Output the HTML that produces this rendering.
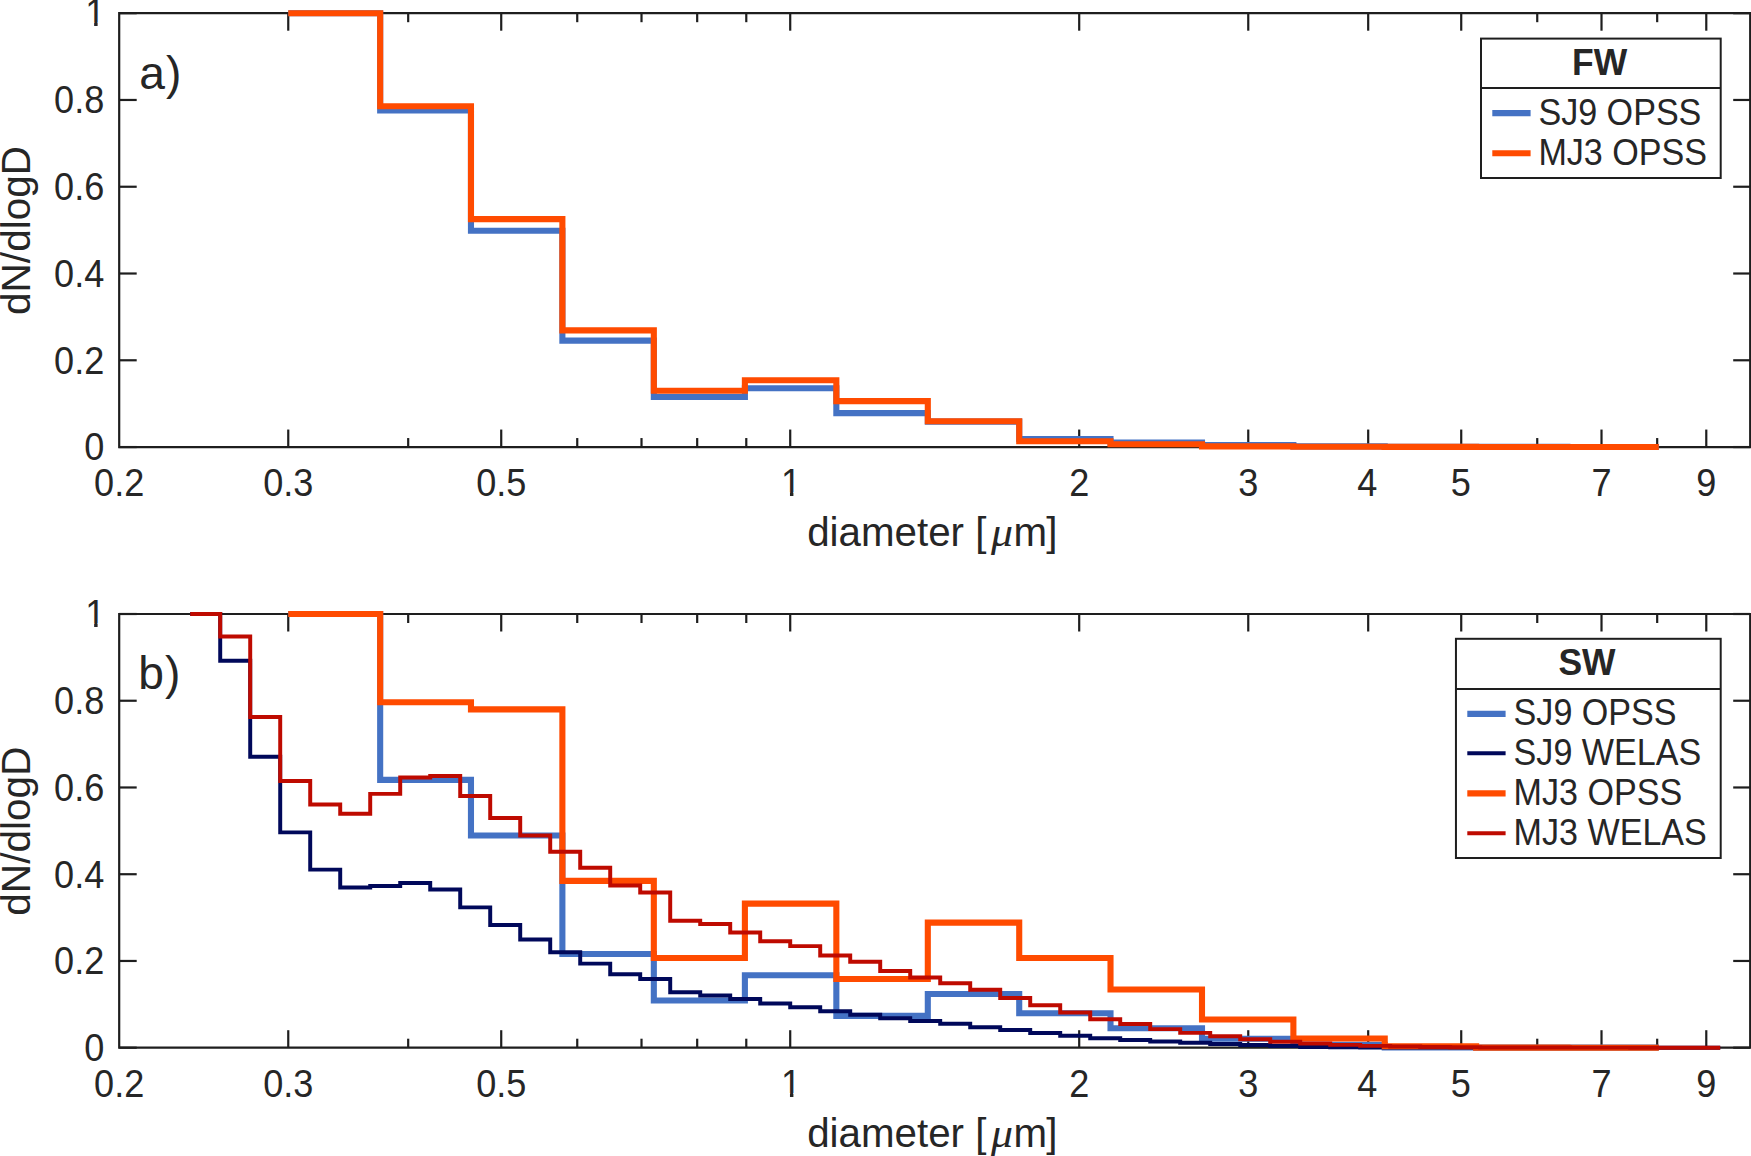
<!DOCTYPE html>
<html lang="en"><head><meta charset="utf-8"><title>Particle size distributions</title>
<style>
html,body{margin:0;padding:0;background:#fff;}
body{width:1751px;height:1156px;overflow:hidden;}
svg{display:block;font-family:"Liberation Sans", Arial, Helvetica, sans-serif;fill:#262626;}
</style></head><body>
<svg width="1751" height="1156" viewBox="0 0 1751 1156">
<defs><clipPath id="c1" clipPathUnits="userSpaceOnUse"><rect x="-5" y="-40" width="50" height="36.5"/><rect x="8.95" y="-3.6" width="3.45" height="4.6"/></clipPath></defs>
<rect x="0" y="0" width="1751" height="1156" fill="#ffffff" stroke="none"/>
<path d="M119.20 13.20 H1750.20 V447.05 H119.20 Z" fill="none" stroke="#1e1e1e" stroke-width="2.20" stroke-linejoin="miter"/>
<line x1="288.25" y1="447.05" x2="288.25" y2="429.55" stroke="#1e1e1e" stroke-width="2.20"/>
<line x1="288.25" y1="13.20" x2="288.25" y2="30.70" stroke="#1e1e1e" stroke-width="2.20"/>
<line x1="501.22" y1="447.05" x2="501.22" y2="429.55" stroke="#1e1e1e" stroke-width="2.20"/>
<line x1="501.22" y1="13.20" x2="501.22" y2="30.70" stroke="#1e1e1e" stroke-width="2.20"/>
<line x1="790.21" y1="447.05" x2="790.21" y2="429.55" stroke="#1e1e1e" stroke-width="2.20"/>
<line x1="790.21" y1="13.20" x2="790.21" y2="30.70" stroke="#1e1e1e" stroke-width="2.20"/>
<line x1="1079.20" y1="447.05" x2="1079.20" y2="429.55" stroke="#1e1e1e" stroke-width="2.20"/>
<line x1="1079.20" y1="13.20" x2="1079.20" y2="30.70" stroke="#1e1e1e" stroke-width="2.20"/>
<line x1="1248.25" y1="447.05" x2="1248.25" y2="429.55" stroke="#1e1e1e" stroke-width="2.20"/>
<line x1="1248.25" y1="13.20" x2="1248.25" y2="30.70" stroke="#1e1e1e" stroke-width="2.20"/>
<line x1="1368.19" y1="447.05" x2="1368.19" y2="429.55" stroke="#1e1e1e" stroke-width="2.20"/>
<line x1="1368.19" y1="13.20" x2="1368.19" y2="30.70" stroke="#1e1e1e" stroke-width="2.20"/>
<line x1="1461.22" y1="447.05" x2="1461.22" y2="429.55" stroke="#1e1e1e" stroke-width="2.20"/>
<line x1="1461.22" y1="13.20" x2="1461.22" y2="30.70" stroke="#1e1e1e" stroke-width="2.20"/>
<line x1="1601.51" y1="447.05" x2="1601.51" y2="429.55" stroke="#1e1e1e" stroke-width="2.20"/>
<line x1="1601.51" y1="13.20" x2="1601.51" y2="30.70" stroke="#1e1e1e" stroke-width="2.20"/>
<line x1="1706.28" y1="447.05" x2="1706.28" y2="429.55" stroke="#1e1e1e" stroke-width="2.20"/>
<line x1="1706.28" y1="13.20" x2="1706.28" y2="30.70" stroke="#1e1e1e" stroke-width="2.20"/>
<line x1="408.19" y1="447.05" x2="408.19" y2="438.05" stroke="#1e1e1e" stroke-width="2.20"/>
<line x1="408.19" y1="13.20" x2="408.19" y2="22.20" stroke="#1e1e1e" stroke-width="2.20"/>
<line x1="577.24" y1="447.05" x2="577.24" y2="438.05" stroke="#1e1e1e" stroke-width="2.20"/>
<line x1="577.24" y1="13.20" x2="577.24" y2="22.20" stroke="#1e1e1e" stroke-width="2.20"/>
<line x1="641.51" y1="447.05" x2="641.51" y2="438.05" stroke="#1e1e1e" stroke-width="2.20"/>
<line x1="641.51" y1="13.20" x2="641.51" y2="22.20" stroke="#1e1e1e" stroke-width="2.20"/>
<line x1="697.18" y1="447.05" x2="697.18" y2="438.05" stroke="#1e1e1e" stroke-width="2.20"/>
<line x1="697.18" y1="13.20" x2="697.18" y2="22.20" stroke="#1e1e1e" stroke-width="2.20"/>
<line x1="746.28" y1="447.05" x2="746.28" y2="438.05" stroke="#1e1e1e" stroke-width="2.20"/>
<line x1="746.28" y1="13.20" x2="746.28" y2="22.20" stroke="#1e1e1e" stroke-width="2.20"/>
<line x1="1537.24" y1="447.05" x2="1537.24" y2="438.05" stroke="#1e1e1e" stroke-width="2.20"/>
<line x1="1537.24" y1="13.20" x2="1537.24" y2="22.20" stroke="#1e1e1e" stroke-width="2.20"/>
<line x1="1657.18" y1="447.05" x2="1657.18" y2="438.05" stroke="#1e1e1e" stroke-width="2.20"/>
<line x1="1657.18" y1="13.20" x2="1657.18" y2="22.20" stroke="#1e1e1e" stroke-width="2.20"/>
<line x1="119.20" y1="447.05" x2="136.70" y2="447.05" stroke="#1e1e1e" stroke-width="2.20"/>
<line x1="1750.20" y1="447.05" x2="1733.20" y2="447.05" stroke="#1e1e1e" stroke-width="2.20"/>
<text transform="translate(104.30 460.45) scale(1.0000 1.0580)" font-size="36.10" text-anchor="end" font-weight="normal">0</text>
<line x1="119.20" y1="360.28" x2="136.70" y2="360.28" stroke="#1e1e1e" stroke-width="2.20"/>
<line x1="1750.20" y1="360.28" x2="1733.20" y2="360.28" stroke="#1e1e1e" stroke-width="2.20"/>
<text transform="translate(104.30 373.68) scale(1.0000 1.0580)" font-size="36.10" text-anchor="end" font-weight="normal">0.2</text>
<line x1="119.20" y1="273.51" x2="136.70" y2="273.51" stroke="#1e1e1e" stroke-width="2.20"/>
<line x1="1750.20" y1="273.51" x2="1733.20" y2="273.51" stroke="#1e1e1e" stroke-width="2.20"/>
<text transform="translate(104.30 286.91) scale(1.0000 1.0580)" font-size="36.10" text-anchor="end" font-weight="normal">0.4</text>
<line x1="119.20" y1="186.74" x2="136.70" y2="186.74" stroke="#1e1e1e" stroke-width="2.20"/>
<line x1="1750.20" y1="186.74" x2="1733.20" y2="186.74" stroke="#1e1e1e" stroke-width="2.20"/>
<text transform="translate(104.30 200.14) scale(1.0000 1.0580)" font-size="36.10" text-anchor="end" font-weight="normal">0.6</text>
<line x1="119.20" y1="99.97" x2="136.70" y2="99.97" stroke="#1e1e1e" stroke-width="2.20"/>
<line x1="1750.20" y1="99.97" x2="1733.20" y2="99.97" stroke="#1e1e1e" stroke-width="2.20"/>
<text transform="translate(104.30 113.37) scale(1.0000 1.0580)" font-size="36.10" text-anchor="end" font-weight="normal">0.8</text>
<line x1="119.20" y1="13.20" x2="136.70" y2="13.20" stroke="#1e1e1e" stroke-width="2.20"/>
<line x1="1750.20" y1="13.20" x2="1733.20" y2="13.20" stroke="#1e1e1e" stroke-width="2.20"/>
<text transform="translate(85.20 26.10) scale(1 1.0580)" font-size="36.10" text-anchor="start" clip-path="url(#c1)">1</text>
<path d="M288.25 13.20 L380.17 13.20 L380.17 110.51 L470.97 110.51 L470.97 230.82 L562.38 230.82 L562.38 340.58 L653.83 340.58 L653.83 397.07 L744.89 397.07 L744.89 388.26 L836.34 388.26 L836.34 413.17 L927.81 413.17 L927.81 421.67 L1019.22 421.67 L1019.22 439.07 L1110.51 439.07 L1110.51 442.67 L1202.00 442.67 L1202.00 445.14 L1293.38 445.14 L1293.38 446.40 L1384.74 446.40 L1384.74 446.83 L1476.13 446.83 L1476.13 446.92 L1567.45 446.92 L1567.45 446.96 L1658.79 446.96" fill="none" stroke="#4472C4" stroke-width="6.10" stroke-linejoin="miter" stroke-linecap="butt"/>
<path d="M288.25 13.20 L380.17 13.20 L380.17 106.26 L470.97 106.26 L470.97 219.15 L562.38 219.15 L562.38 330.34 L653.83 330.34 L653.83 390.82 L744.89 390.82 L744.89 380.28 L836.34 380.28 L836.34 401.15 L927.81 401.15 L927.81 421.24 L1019.22 421.24 L1019.22 441.24 L1110.51 441.24 L1110.51 444.23 L1202.00 444.23 L1202.00 446.36 L1293.38 446.36 L1293.38 446.79 L1384.74 446.79 L1384.74 446.92 L1476.13 446.92 L1476.13 446.96 L1567.45 446.96 L1567.45 447.01 L1658.79 447.01" fill="none" stroke="#FF4B00" stroke-width="6.10" stroke-linejoin="miter" stroke-linecap="butt"/>
<text transform="translate(119.20 496.10) scale(1.0000 1.0580)" font-size="36.10" text-anchor="middle" font-weight="normal">0.2</text>
<text transform="translate(288.25 496.10) scale(1.0000 1.0580)" font-size="36.10" text-anchor="middle" font-weight="normal">0.3</text>
<text transform="translate(501.22 496.10) scale(1.0000 1.0580)" font-size="36.10" text-anchor="middle" font-weight="normal">0.5</text>
<text transform="translate(781.01 496.00) scale(1 1.0580)" font-size="36.10" text-anchor="start" clip-path="url(#c1)">1</text>
<text transform="translate(1079.20 496.10) scale(1.0000 1.0580)" font-size="36.10" text-anchor="middle" font-weight="normal">2</text>
<text transform="translate(1248.25 496.10) scale(1.0000 1.0580)" font-size="36.10" text-anchor="middle" font-weight="normal">3</text>
<text transform="translate(1367.29 496.10) scale(1.0000 1.0580)" font-size="36.10" text-anchor="middle" font-weight="normal">4</text>
<text transform="translate(1460.82 496.10) scale(1.0000 1.0580)" font-size="36.10" text-anchor="middle" font-weight="normal">5</text>
<text transform="translate(1601.51 496.10) scale(1.0000 1.0580)" font-size="36.10" text-anchor="middle" font-weight="normal">7</text>
<text transform="translate(1706.28 496.10) scale(1.0000 1.0580)" font-size="36.10" text-anchor="middle" font-weight="normal">9</text>
<text y="546.40" font-size="40.30" text-anchor="start"><tspan x="807.2">diameter [</tspan><tspan x="991.0" font-family="'Liberation Serif', 'DejaVu Serif', serif" font-style="italic" font-size="40.5" textLength="22.0" lengthAdjust="spacingAndGlyphs">μ</tspan><tspan x="1013.4" letter-spacing="-0.6">m]</tspan></text>
<text transform="translate(29.80 230.43) rotate(-90)" font-size="40.60" text-anchor="middle">dN/dlogD</text>
<path d="M119.20 614.00 H1750.20 V1047.70 H119.20 Z" fill="none" stroke="#1e1e1e" stroke-width="2.20" stroke-linejoin="miter"/>
<line x1="288.25" y1="1047.70" x2="288.25" y2="1030.20" stroke="#1e1e1e" stroke-width="2.20"/>
<line x1="288.25" y1="614.00" x2="288.25" y2="631.50" stroke="#1e1e1e" stroke-width="2.20"/>
<line x1="501.22" y1="1047.70" x2="501.22" y2="1030.20" stroke="#1e1e1e" stroke-width="2.20"/>
<line x1="501.22" y1="614.00" x2="501.22" y2="631.50" stroke="#1e1e1e" stroke-width="2.20"/>
<line x1="790.21" y1="1047.70" x2="790.21" y2="1030.20" stroke="#1e1e1e" stroke-width="2.20"/>
<line x1="790.21" y1="614.00" x2="790.21" y2="631.50" stroke="#1e1e1e" stroke-width="2.20"/>
<line x1="1079.20" y1="1047.70" x2="1079.20" y2="1030.20" stroke="#1e1e1e" stroke-width="2.20"/>
<line x1="1079.20" y1="614.00" x2="1079.20" y2="631.50" stroke="#1e1e1e" stroke-width="2.20"/>
<line x1="1248.25" y1="1047.70" x2="1248.25" y2="1030.20" stroke="#1e1e1e" stroke-width="2.20"/>
<line x1="1248.25" y1="614.00" x2="1248.25" y2="631.50" stroke="#1e1e1e" stroke-width="2.20"/>
<line x1="1368.19" y1="1047.70" x2="1368.19" y2="1030.20" stroke="#1e1e1e" stroke-width="2.20"/>
<line x1="1368.19" y1="614.00" x2="1368.19" y2="631.50" stroke="#1e1e1e" stroke-width="2.20"/>
<line x1="1461.22" y1="1047.70" x2="1461.22" y2="1030.20" stroke="#1e1e1e" stroke-width="2.20"/>
<line x1="1461.22" y1="614.00" x2="1461.22" y2="631.50" stroke="#1e1e1e" stroke-width="2.20"/>
<line x1="1601.51" y1="1047.70" x2="1601.51" y2="1030.20" stroke="#1e1e1e" stroke-width="2.20"/>
<line x1="1601.51" y1="614.00" x2="1601.51" y2="631.50" stroke="#1e1e1e" stroke-width="2.20"/>
<line x1="1706.28" y1="1047.70" x2="1706.28" y2="1030.20" stroke="#1e1e1e" stroke-width="2.20"/>
<line x1="1706.28" y1="614.00" x2="1706.28" y2="631.50" stroke="#1e1e1e" stroke-width="2.20"/>
<line x1="408.19" y1="1047.70" x2="408.19" y2="1038.70" stroke="#1e1e1e" stroke-width="2.20"/>
<line x1="408.19" y1="614.00" x2="408.19" y2="623.00" stroke="#1e1e1e" stroke-width="2.20"/>
<line x1="577.24" y1="1047.70" x2="577.24" y2="1038.70" stroke="#1e1e1e" stroke-width="2.20"/>
<line x1="577.24" y1="614.00" x2="577.24" y2="623.00" stroke="#1e1e1e" stroke-width="2.20"/>
<line x1="641.51" y1="1047.70" x2="641.51" y2="1038.70" stroke="#1e1e1e" stroke-width="2.20"/>
<line x1="641.51" y1="614.00" x2="641.51" y2="623.00" stroke="#1e1e1e" stroke-width="2.20"/>
<line x1="697.18" y1="1047.70" x2="697.18" y2="1038.70" stroke="#1e1e1e" stroke-width="2.20"/>
<line x1="697.18" y1="614.00" x2="697.18" y2="623.00" stroke="#1e1e1e" stroke-width="2.20"/>
<line x1="746.28" y1="1047.70" x2="746.28" y2="1038.70" stroke="#1e1e1e" stroke-width="2.20"/>
<line x1="746.28" y1="614.00" x2="746.28" y2="623.00" stroke="#1e1e1e" stroke-width="2.20"/>
<line x1="1537.24" y1="1047.70" x2="1537.24" y2="1038.70" stroke="#1e1e1e" stroke-width="2.20"/>
<line x1="1537.24" y1="614.00" x2="1537.24" y2="623.00" stroke="#1e1e1e" stroke-width="2.20"/>
<line x1="1657.18" y1="1047.70" x2="1657.18" y2="1038.70" stroke="#1e1e1e" stroke-width="2.20"/>
<line x1="1657.18" y1="614.00" x2="1657.18" y2="623.00" stroke="#1e1e1e" stroke-width="2.20"/>
<line x1="119.20" y1="1047.70" x2="136.70" y2="1047.70" stroke="#1e1e1e" stroke-width="2.20"/>
<line x1="1750.20" y1="1047.70" x2="1733.20" y2="1047.70" stroke="#1e1e1e" stroke-width="2.20"/>
<text transform="translate(104.30 1061.10) scale(1.0000 1.0580)" font-size="36.10" text-anchor="end" font-weight="normal">0</text>
<line x1="119.20" y1="960.96" x2="136.70" y2="960.96" stroke="#1e1e1e" stroke-width="2.20"/>
<line x1="1750.20" y1="960.96" x2="1733.20" y2="960.96" stroke="#1e1e1e" stroke-width="2.20"/>
<text transform="translate(104.30 974.36) scale(1.0000 1.0580)" font-size="36.10" text-anchor="end" font-weight="normal">0.2</text>
<line x1="119.20" y1="874.22" x2="136.70" y2="874.22" stroke="#1e1e1e" stroke-width="2.20"/>
<line x1="1750.20" y1="874.22" x2="1733.20" y2="874.22" stroke="#1e1e1e" stroke-width="2.20"/>
<text transform="translate(104.30 887.62) scale(1.0000 1.0580)" font-size="36.10" text-anchor="end" font-weight="normal">0.4</text>
<line x1="119.20" y1="787.48" x2="136.70" y2="787.48" stroke="#1e1e1e" stroke-width="2.20"/>
<line x1="1750.20" y1="787.48" x2="1733.20" y2="787.48" stroke="#1e1e1e" stroke-width="2.20"/>
<text transform="translate(104.30 800.88) scale(1.0000 1.0580)" font-size="36.10" text-anchor="end" font-weight="normal">0.6</text>
<line x1="119.20" y1="700.74" x2="136.70" y2="700.74" stroke="#1e1e1e" stroke-width="2.20"/>
<line x1="1750.20" y1="700.74" x2="1733.20" y2="700.74" stroke="#1e1e1e" stroke-width="2.20"/>
<text transform="translate(104.30 714.14) scale(1.0000 1.0580)" font-size="36.10" text-anchor="end" font-weight="normal">0.8</text>
<line x1="119.20" y1="614.00" x2="136.70" y2="614.00" stroke="#1e1e1e" stroke-width="2.20"/>
<line x1="1750.20" y1="614.00" x2="1733.20" y2="614.00" stroke="#1e1e1e" stroke-width="2.20"/>
<text transform="translate(85.20 626.90) scale(1 1.0580)" font-size="36.10" text-anchor="start" clip-path="url(#c1)">1</text>
<path d="M288.25 614.00 L380.17 614.00 L380.17 779.85 L470.97 779.85 L470.97 835.49 L562.38 835.49 L562.38 954.02 L653.83 954.02 L653.83 1000.56 L744.89 1000.56 L744.89 975.23 L836.34 975.23 L836.34 1015.87 L927.81 1015.87 L927.81 994.05 L1019.22 994.05 L1019.22 1013.26 L1110.51 1013.26 L1110.51 1028.18 L1202.00 1028.18 L1202.00 1038.81 L1293.38 1038.81 L1293.38 1044.88 L1384.74 1044.88 L1384.74 1047.48 L1476.13 1047.48 L1476.13 1047.61 L1567.45 1047.61 L1567.45 1047.66 L1658.79 1047.66" fill="none" stroke="#4472C4" stroke-width="6.10" stroke-linejoin="miter" stroke-linecap="butt"/>
<path d="M190.21 614.00 L220.21 614.00 L220.21 660.84 L250.21 660.84 L250.21 756.77 L280.21 756.77 L280.21 832.37 L310.21 832.37 L310.21 869.62 L340.21 869.62 L340.21 887.45 L370.21 887.45 L370.21 886.06 L400.21 886.06 L400.21 883.07 L430.21 883.07 L430.21 889.57 L460.21 889.57 L460.21 907.35 L490.21 907.35 L490.21 925.01 L520.21 925.01 L520.21 939.54 L550.21 939.54 L550.21 952.33 L580.21 952.33 L580.21 963.61 L610.21 963.61 L610.21 974.32 L640.21 974.32 L640.21 978.96 L670.21 978.96 L670.21 992.27 L700.21 992.27 L700.21 995.44 L730.21 995.44 L730.21 999.04 L760.21 999.04 L760.21 1003.55 L790.21 1003.55 L790.21 1007.28 L820.21 1007.28 L820.21 1011.27 L850.21 1011.27 L850.21 1014.65 L880.21 1014.65 L880.21 1018.30 L910.21 1018.30 L910.21 1021.07 L940.21 1021.07 L940.21 1023.76 L970.21 1023.76 L970.21 1027.19 L1000.21 1027.19 L1000.21 1030.09 L1030.21 1030.09 L1030.21 1033.00 L1060.21 1033.00 L1060.21 1035.77 L1090.21 1035.77 L1090.21 1038.20 L1120.21 1038.20 L1120.21 1040.02 L1150.21 1040.02 L1150.21 1041.45 L1180.21 1041.45 L1180.21 1042.84 L1210.21 1042.84 L1210.21 1044.01 L1240.21 1044.01 L1240.21 1044.92 L1270.21 1044.92 L1270.21 1046.01 L1300.21 1046.01 L1300.21 1046.96 L1330.21 1046.96 L1330.21 1047.27 L1360.21 1047.27 L1360.21 1047.44 L1390.21 1047.44 L1390.21 1047.53 L1420.21 1047.53 L1420.21 1047.57 L1450.21 1047.57 L1450.21 1047.61 L1480.21 1047.61 L1480.21 1047.61 L1510.21 1047.61 L1510.21 1047.66 L1540.21 1047.66 L1540.21 1047.66 L1570.21 1047.66 L1570.21 1047.66 L1600.21 1047.66 L1600.21 1047.66 L1630.21 1047.66 L1630.21 1047.66 L1660.21 1047.66 L1660.21 1047.66 L1690.21 1047.66 L1690.21 1047.66 L1720.21 1047.66" fill="none" stroke="#00085A" stroke-width="3.95" stroke-linejoin="miter" stroke-linecap="butt"/>
<path d="M288.25 614.00 L380.17 614.00 L380.17 702.30 L470.97 702.30 L470.97 709.41 L562.38 709.41 L562.38 880.90 L653.83 880.90 L653.83 958.01 L744.89 958.01 L744.89 903.58 L836.34 903.58 L836.34 979.05 L927.81 979.05 L927.81 922.58 L1019.22 922.58 L1019.22 958.05 L1110.51 958.05 L1110.51 989.45 L1202.00 989.45 L1202.00 1019.47 L1293.38 1019.47 L1293.38 1038.51 L1384.74 1038.51 L1384.74 1046.31 L1476.13 1046.31 L1476.13 1047.61 L1567.45 1047.61 L1567.45 1047.70 L1658.79 1047.70" fill="none" stroke="#FF4B00" stroke-width="6.10" stroke-linejoin="miter" stroke-linecap="butt"/>
<path d="M190.21 614.00 L220.21 614.00 L220.21 636.55 L250.21 636.55 L250.21 717.00 L280.21 717.00 L280.21 780.97 L310.21 780.97 L310.21 804.48 L340.21 804.48 L340.21 813.81 L370.21 813.81 L370.21 793.86 L400.21 793.86 L400.21 777.50 L430.21 777.50 L430.21 776.03 L460.21 776.03 L460.21 795.94 L490.21 795.94 L490.21 818.01 L520.21 818.01 L520.21 835.53 L550.21 835.53 L550.21 851.84 L580.21 851.84 L580.21 867.71 L610.21 867.71 L610.21 885.45 L640.21 885.45 L640.21 892.52 L670.21 892.52 L670.21 920.67 L700.21 920.67 L700.21 923.97 L730.21 923.97 L730.21 932.42 L760.21 932.42 L760.21 941.31 L790.21 941.31 L790.21 946.13 L820.21 946.13 L820.21 955.50 L850.21 955.50 L850.21 961.83 L880.21 961.83 L880.21 970.94 L910.21 970.94 L910.21 977.44 L940.21 977.44 L940.21 983.25 L970.21 983.25 L970.21 989.80 L1000.21 989.80 L1000.21 998.04 L1030.21 998.04 L1030.21 1005.24 L1060.21 1005.24 L1060.21 1012.48 L1090.21 1012.48 L1090.21 1019.29 L1120.21 1019.29 L1120.21 1024.06 L1150.21 1024.06 L1150.21 1029.14 L1180.21 1029.14 L1180.21 1032.87 L1210.21 1032.87 L1210.21 1036.25 L1240.21 1036.25 L1240.21 1039.16 L1270.21 1039.16 L1270.21 1041.71 L1300.21 1041.71 L1300.21 1043.58 L1330.21 1043.58 L1330.21 1044.88 L1360.21 1044.88 L1360.21 1045.88 L1390.21 1045.88 L1390.21 1046.53 L1420.21 1046.53 L1420.21 1046.96 L1450.21 1046.96 L1450.21 1047.27 L1480.21 1047.27 L1480.21 1047.44 L1510.21 1047.44 L1510.21 1047.53 L1540.21 1047.53 L1540.21 1047.57 L1570.21 1047.57 L1570.21 1047.61 L1600.21 1047.61 L1600.21 1047.61 L1630.21 1047.61 L1630.21 1047.66 L1660.21 1047.66 L1660.21 1047.66 L1690.21 1047.66 L1690.21 1047.66 L1720.21 1047.66" fill="none" stroke="#BE0A00" stroke-width="3.95" stroke-linejoin="miter" stroke-linecap="butt"/>
<text transform="translate(119.20 1096.75) scale(1.0000 1.0580)" font-size="36.10" text-anchor="middle" font-weight="normal">0.2</text>
<text transform="translate(288.25 1096.75) scale(1.0000 1.0580)" font-size="36.10" text-anchor="middle" font-weight="normal">0.3</text>
<text transform="translate(501.22 1096.75) scale(1.0000 1.0580)" font-size="36.10" text-anchor="middle" font-weight="normal">0.5</text>
<text transform="translate(781.01 1096.65) scale(1 1.0580)" font-size="36.10" text-anchor="start" clip-path="url(#c1)">1</text>
<text transform="translate(1079.20 1096.75) scale(1.0000 1.0580)" font-size="36.10" text-anchor="middle" font-weight="normal">2</text>
<text transform="translate(1248.25 1096.75) scale(1.0000 1.0580)" font-size="36.10" text-anchor="middle" font-weight="normal">3</text>
<text transform="translate(1367.29 1096.75) scale(1.0000 1.0580)" font-size="36.10" text-anchor="middle" font-weight="normal">4</text>
<text transform="translate(1460.82 1096.75) scale(1.0000 1.0580)" font-size="36.10" text-anchor="middle" font-weight="normal">5</text>
<text transform="translate(1601.51 1096.75) scale(1.0000 1.0580)" font-size="36.10" text-anchor="middle" font-weight="normal">7</text>
<text transform="translate(1706.28 1096.75) scale(1.0000 1.0580)" font-size="36.10" text-anchor="middle" font-weight="normal">9</text>
<text y="1147.10" font-size="40.30" text-anchor="start"><tspan x="807.2">diameter [</tspan><tspan x="991.0" font-family="'Liberation Serif', 'DejaVu Serif', serif" font-style="italic" font-size="40.5" textLength="22.0" lengthAdjust="spacingAndGlyphs">μ</tspan><tspan x="1013.4" letter-spacing="-0.6">m]</tspan></text>
<text transform="translate(29.80 831.15) rotate(-90)" font-size="40.60" text-anchor="middle">dN/dlogD</text>
<text transform="translate(139.20 89.30) scale(1.0000 1.0000)" font-size="46.20" text-anchor="start" font-weight="normal" letter-spacing="1.20">a)</text>
<text transform="translate(138.20 688.60) scale(1.0000 1.0000)" font-size="46.20" text-anchor="start" font-weight="normal" letter-spacing="1.20">b)</text>
<rect x="1481.00" y="38.60" width="239.70" height="139.40" fill="#fff" stroke="#1e1e1e" stroke-width="2"/>
<line x1="1481.00" y1="88.00" x2="1720.70" y2="88.00" stroke="#1e1e1e" stroke-width="2.00"/>
<text transform="translate(1599.55 74.60) scale(1.0000 1.0250)" font-size="35.50" text-anchor="middle" font-weight="bold">FW</text>
<line x1="1492.30" y1="113.10" x2="1530.60" y2="113.10" stroke="#4472C4" stroke-width="6.10"/>
<text transform="translate(1538.40 124.50) scale(1.0000 1.0950)" font-size="34.10" text-anchor="start" font-weight="normal">SJ9 OPSS</text>
<line x1="1492.30" y1="153.20" x2="1530.60" y2="153.20" stroke="#FF4B00" stroke-width="6.10"/>
<text transform="translate(1538.40 164.60) scale(1.0000 1.0950)" font-size="34.10" text-anchor="start" font-weight="normal">MJ3 OPSS</text>
<rect x="1455.95" y="638.80" width="264.75" height="219.20" fill="#fff" stroke="#1e1e1e" stroke-width="2"/>
<line x1="1455.95" y1="688.90" x2="1720.70" y2="688.90" stroke="#1e1e1e" stroke-width="2.00"/>
<text transform="translate(1587.03 674.60) scale(1.0000 1.0250)" font-size="35.50" text-anchor="middle" font-weight="bold">SW</text>
<line x1="1467.30" y1="713.90" x2="1505.60" y2="713.90" stroke="#4472C4" stroke-width="6.10"/>
<text transform="translate(1513.60 725.30) scale(1.0000 1.0950)" font-size="34.10" text-anchor="start" font-weight="normal">SJ9 OPSS</text>
<line x1="1467.30" y1="753.30" x2="1505.60" y2="753.30" stroke="#00085A" stroke-width="3.95"/>
<text transform="translate(1513.60 764.80) scale(1.0000 1.0950)" font-size="34.10" text-anchor="start" font-weight="normal">SJ9 WELAS</text>
<line x1="1467.30" y1="793.40" x2="1505.60" y2="793.40" stroke="#FF4B00" stroke-width="6.10"/>
<text transform="translate(1513.60 804.90) scale(1.0000 1.0950)" font-size="34.10" text-anchor="start" font-weight="normal">MJ3 OPSS</text>
<line x1="1467.30" y1="833.30" x2="1505.60" y2="833.30" stroke="#BE0A00" stroke-width="3.95"/>
<text transform="translate(1513.60 844.80) scale(1.0000 1.0950)" font-size="34.10" text-anchor="start" font-weight="normal">MJ3 WELAS</text>
</svg>
</body></html>
